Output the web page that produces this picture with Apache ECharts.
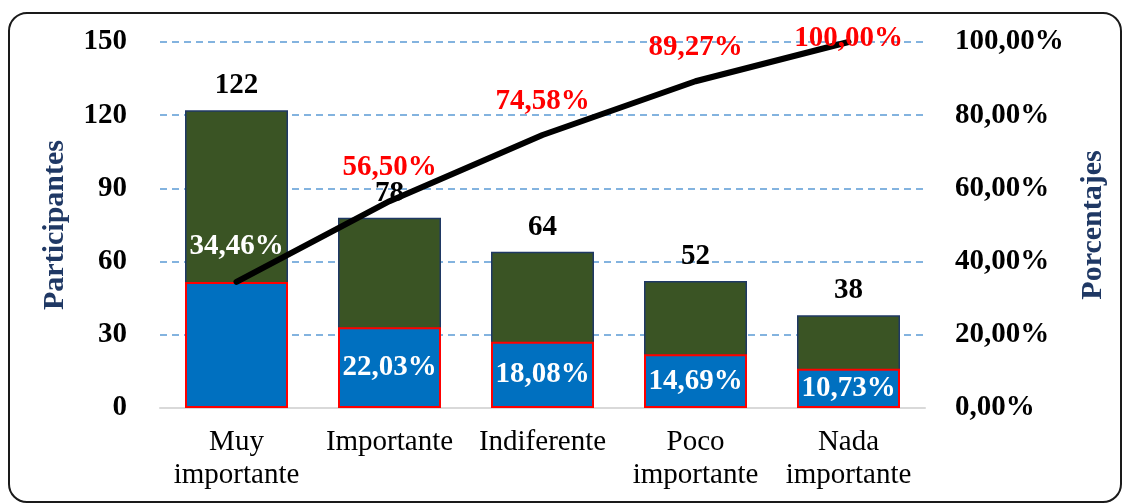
<!DOCTYPE html>
<html>
<head>
<meta charset="utf-8">
<script src="https://cdn.jsdelivr.net/npm/echarts@6/dist/echarts.min.js"></script>
<style>
  html, body { margin: 0; padding: 0; background: #fff; }
  #chart { width: 1126px; height: 504px; }
</style>
</head>
<body>
<div id="chart"></div>
<script>
  // datos
  const categorias = ['Muy\nimportante', 'Importante', 'Indiferente', 'Poco\nimportante', 'Nada\nimportante']
  const participantes = [122, 78, 64, 52, 38]
  const porcentaje = [34.46, 22.03, 18.08, 14.69, 10.73]
  const acumulado = [34.46, 56.50, 74.58, 89.27, 100.00]
  const ticksIzq = [0, 30, 60, 90, 120, 150]

  const fuente = '"Liberation Serif", "Times New Roman", serif'
  const fmt = v => v.toFixed(2).replace('.', ',') + '%'

  const chart = echarts.init(document.getElementById('chart'))

  chart.setOption({
    animation: false,
    textStyle: { fontFamily: fuente },
    graphic: [{ // marco redondeado
      type: 'rect',
      shape: { x: 9, y: 13, width: 1112, height: 489, r: 18 },
      style: { fill: 'none', stroke: '#1a1a1a', lineWidth: 2 },
      z: 100
    }],
    grid: { left: 160, right: 201, top: 42, bottom: 96, outerBoundsMode: 'none' },
    xAxis: {
      type: 'category',
      data: categorias,
      axisTick: { show: false },
      axisLine: { lineStyle: { color: '#d9d9d9', width: 2 } },
      axisLabel: {
        interval: 0,
        margin: 18,
        color: '#000',
        fontSize: 29,
        lineHeight: 33,
        fontFamily: fuente
      }
    },
    yAxis: [
      {
        type: 'value',
        min: ticksIzq[0],
        max: ticksIzq[ticksIzq.length - 1],
        interval: 30,
        name: 'Participantes',
        nameLocation: 'middle',
        nameGap: 90,
        nameTextStyle: { color: '#1F3864', fontWeight: 'bold', fontSize: 30, fontFamily: fuente },
        axisLine: { show: false },
        axisTick: { show: false },
        axisLabel: { color: '#000', fontWeight: 'bold', fontSize: 29, margin: 33, fontFamily: fuente },
        splitLine: { lineStyle: { color: '#5B9BD5', type: [7, 5], width: 1.5 } }
      },
      {
        type: 'value',
        min: 0,
        max: 100,
        interval: 20,
        name: 'Porcentajes',
        nameLocation: 'middle',
        nameGap: 153,
        nameTextStyle: { color: '#1F3864', fontWeight: 'bold', fontSize: 30, fontFamily: fuente },
        axisLine: { show: false },
        axisTick: { show: false },
        axisLabel: {
          color: '#000', fontWeight: 'bold', fontSize: 29, margin: 30, fontFamily: fuente,
          formatter: v => fmt(v)
        },
        splitLine: { show: false }
      }
    ],
    series: [
      {
        name: 'Participantes',
        type: 'bar',
        data: participantes,
        barWidth: 103,
        barGap: '-100%',
        itemStyle: { color: '#3A5424', borderColor: '#1F3864', borderWidth: 1.5 },
        label: {
          show: true,
          position: 'top',
          distance: 10,
          color: '#000',
          fontWeight: 'bold',
          fontSize: 29,
          fontFamily: fuente
        },
        z: 2
      },
      {
        name: 'Porcentaje',
        type: 'bar',
        yAxisIndex: 1,
        data: porcentaje.map((v, i) => i === 0 ? { value: v, label: { show: false } } : v),
        barWidth: 103,
        barGap: '-100%',
        itemStyle: { color: '#0070C0', borderColor: '#FF0000', borderWidth: 2 },
        label: {
          show: true,
          position: 'inside',
          color: '#fff',
          fontWeight: 'bold',
          fontSize: 29,
          fontFamily: fuente,
          formatter: p => fmt(p.value)
        },
        z: 3
      },
      {
        name: 'Acumulado',
        type: 'line',
        yAxisIndex: 1,
        data: acumulado.map((v, i) => {
          if (i === 0) return { value: v, label: { color: '#fff', distance: 20 } }
          if (i === acumulado.length - 1) return { value: v, label: { distance: -12 } }
          return v
        }),
        showSymbol: true,
        showAllSymbol: true,
        symbol: 'circle',
        symbolSize: 2,
        itemStyle: { color: '#000' },
        lineStyle: { color: '#000', width: 6, cap: 'round' },
        label: {
          show: true,
          position: 'top',
          distance: 18,
          color: '#FF0000',
          fontWeight: 'bold',
          fontSize: 29,
          fontFamily: fuente,
          formatter: p => fmt(p.value)
        },
        labelLayout: { hideOverlap: false },
        z: 5
      }
    ]
  })
</script>
</body>
</html>
